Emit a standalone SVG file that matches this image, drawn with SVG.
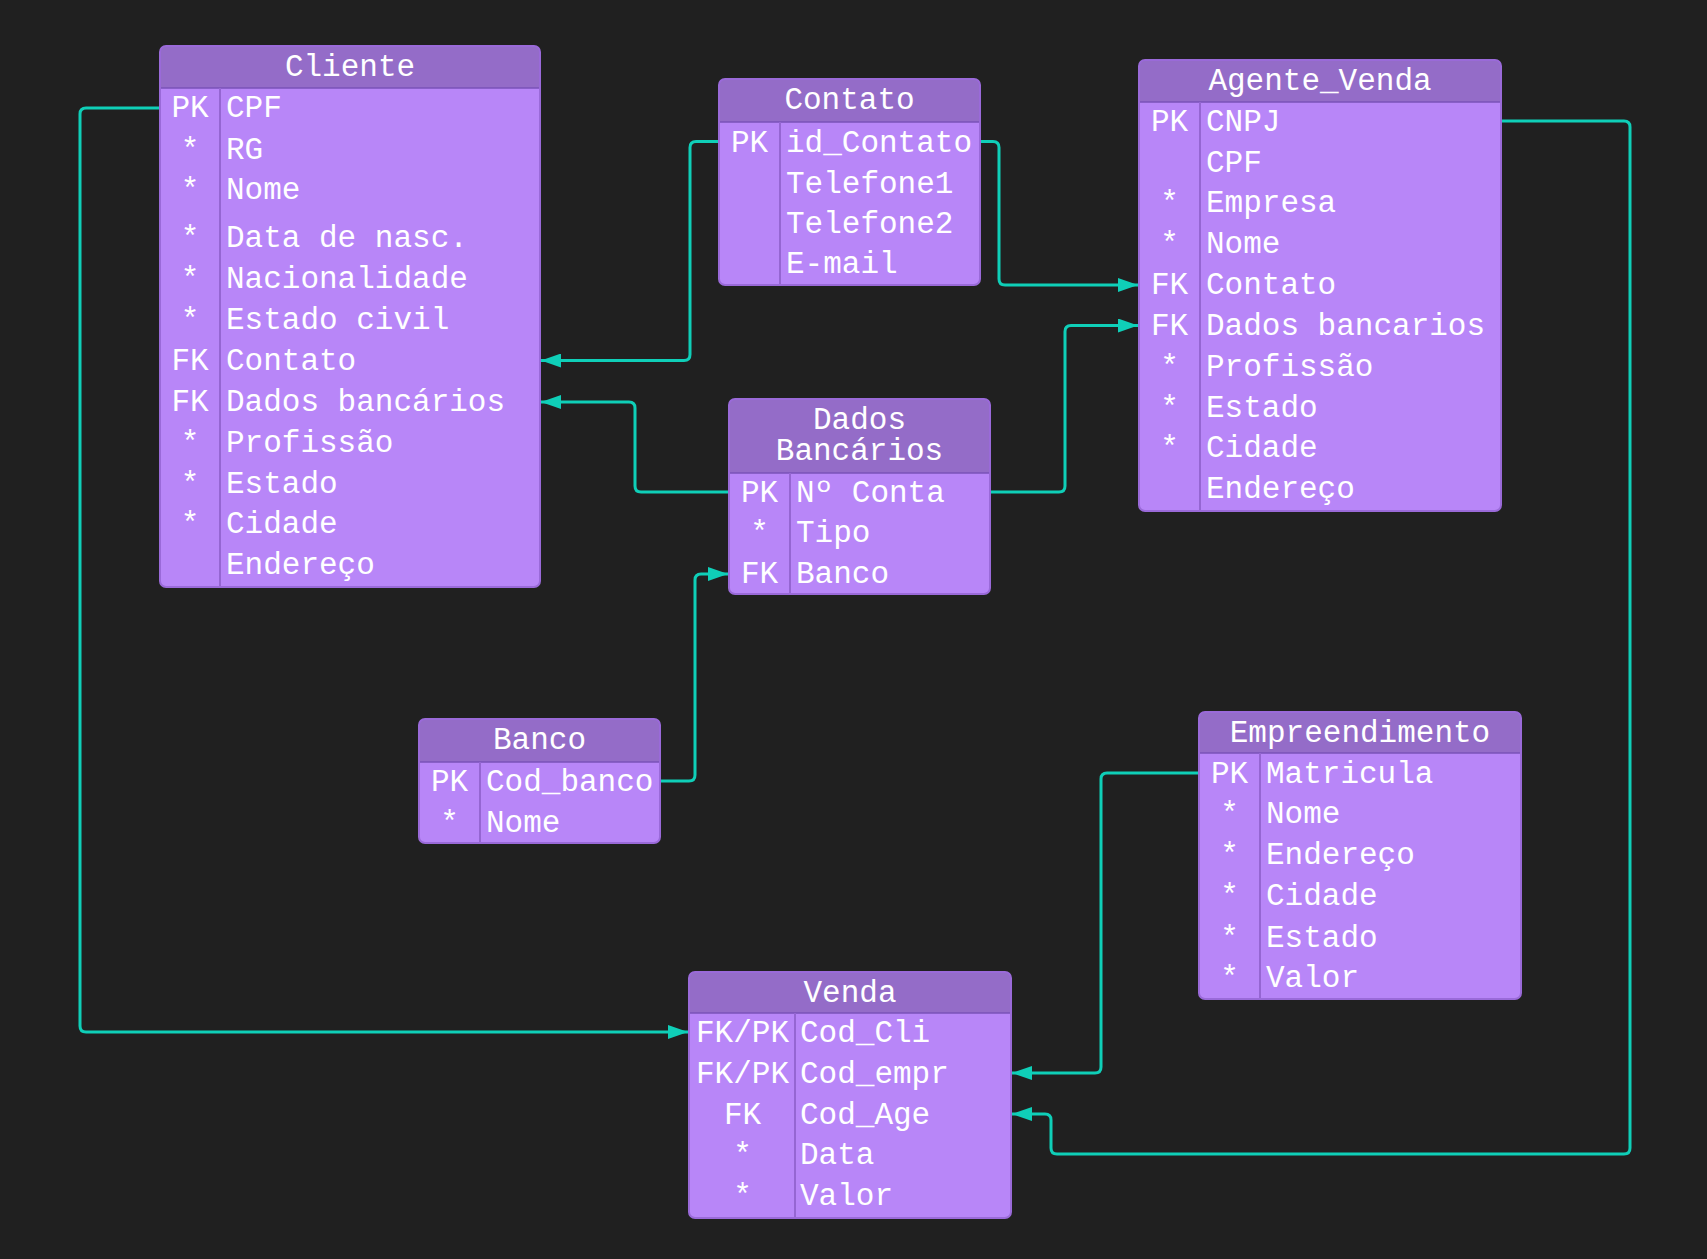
<svg xmlns="http://www.w3.org/2000/svg" width="1707" height="1259" viewBox="0 0 1707 1259">
<style>
.body{fill:#b886f8;}
.hdr{fill:#946cc8;}
.outline{fill:none;stroke:#9a6ad9;stroke-width:2;}
.div{stroke:#9566d2;stroke-width:2;}
.hsep{stroke:#7a52b8;stroke-width:1.5;}
text{font-family:"Liberation Mono","DejaVu Sans Mono",monospace;font-size:31px;fill:#ffffff;}
.c{text-anchor:middle;}
.conn path{fill:none;stroke:#0fcfb8;stroke-width:3;}
</style>
<defs>
<marker id="arr" markerUnits="userSpaceOnUse" markerWidth="21" markerHeight="14" refX="20" refY="7" orient="auto">
<path d="M0,0 L20,7 L0,14 z" fill="#0fcfb8"/>
</marker>
</defs>
<rect width="1707" height="1259" fill="#202020"/>

<g id="connectors" class="conn">
<path d="M159,108 H86 Q80,108 80,114 V1026 Q80,1032 86,1032 H688" marker-end="url(#arr)"/>
<path d="M719,141.5 H696 Q690,141.5 690,147.5 V354.5 Q690,360.5 684,360.5 H541" marker-end="url(#arr)"/>
<path d="M980,141.5 H993 Q999,141.5 999,147.5 V279 Q999,285 1005,285 H1138" marker-end="url(#arr)"/>
<path d="M729,492 H641 Q635,492 635,486 V408 Q635,402 629,402 H541" marker-end="url(#arr)"/>
<path d="M990,492 H1059 Q1065,492 1065,486 V331.5 Q1065,325.5 1071,325.5 H1138" marker-end="url(#arr)"/>
<path d="M660,781 H689 Q695,781 695,775 V580 Q695,574 701,574 H728" marker-end="url(#arr)"/>
<path d="M1199,773 H1107 Q1101,773 1101,779 V1067 Q1101,1073 1095,1073 H1012" marker-end="url(#arr)"/>
<path d="M1501,121 H1624 Q1630,121 1630,127 V1148 Q1630,1154 1624,1154 H1057 Q1051,1154 1051,1148 V1120 Q1051,1114 1045,1114 H1012" marker-end="url(#arr)"/>
</g>

<g id="cliente">
<rect class="body" x="160" y="46" width="380" height="541" rx="6"/>
<path class="hdr" d="M160,88 V52 Q160,46 166,46 H534 Q540,46 540,52 V88 Z"/>
<line class="hsep" x1="160" y1="88" x2="540" y2="88"/>
<line class="div" x1="220" y1="88" x2="220" y2="587"/>
<rect class="outline" x="160" y="46" width="380" height="541" rx="6"/>
<text class="c" x="350" y="76">Cliente</text>
<text class="c" x="190" y="117">PK</text><text x="226" y="117">CPF</text>
<text class="c" x="190" y="158.5">*</text><text x="226" y="158.5">RG</text>
<text class="c" x="190" y="199">*</text><text x="226" y="199">Nome</text>
<text class="c" x="190" y="247">*</text><text x="226" y="247">Data de nasc.</text>
<text class="c" x="190" y="288">*</text><text x="226" y="288">Nacionalidade</text>
<text class="c" x="190" y="328.5">*</text><text x="226" y="328.5">Estado civil</text>
<text class="c" x="190" y="370">FK</text><text x="226" y="370">Contato</text>
<text class="c" x="190" y="411">FK</text><text x="226" y="411">Dados bancários</text>
<text class="c" x="190" y="452">*</text><text x="226" y="452">Profissão</text>
<text class="c" x="190" y="493">*</text><text x="226" y="493">Estado</text>
<text class="c" x="190" y="533">*</text><text x="226" y="533">Cidade</text>
<text x="226" y="574">Endereço</text>
</g>

<g id="contato">
<rect class="body" x="719" y="79" width="261" height="206" rx="6"/>
<path class="hdr" d="M719,122 V85 Q719,79 725,79 H974 Q980,79 980,85 V122 Z"/>
<line class="hsep" x1="719" y1="122" x2="980" y2="122"/>
<line class="div" x1="780" y1="122" x2="780" y2="285"/>
<rect class="outline" x="719" y="79" width="261" height="206" rx="6"/>
<text class="c" x="849.5" y="109">Contato</text>
<text class="c" x="749.5" y="152">PK</text><text x="786" y="152">id_Contato</text>
<text x="786" y="193">Telefone1</text>
<text x="786" y="233">Telefone2</text>
<text x="786" y="273">E-mail</text>
</g>

<g id="dados_bancarios">
<rect class="body" x="729" y="399" width="261" height="195" rx="6"/>
<path class="hdr" d="M729,473 V405 Q729,399 735,399 H984 Q990,399 990,405 V473 Z"/>
<line class="hsep" x1="729" y1="473" x2="990" y2="473"/>
<line class="div" x1="790" y1="473" x2="790" y2="594"/>
<rect class="outline" x="729" y="399" width="261" height="195" rx="6"/>
<text class="c" x="859.5" y="429"><tspan x="859.5" y="429">Dados</tspan><tspan x="859.5" y="460">Bancários</tspan></text>
<text class="c" x="759.5" y="502">PK</text><text x="796" y="502">Nº Conta</text>
<text class="c" x="759.5" y="542">*</text><text x="796" y="542">Tipo</text>
<text class="c" x="759.5" y="583">FK</text><text x="796" y="583">Banco</text>
</g>

<g id="agente_venda">
<rect class="body" x="1139" y="60" width="362" height="451" rx="6"/>
<path class="hdr" d="M1139,102 V66 Q1139,60 1145,60 H1495 Q1501,60 1501,66 V102 Z"/>
<line class="hsep" x1="1139" y1="102" x2="1501" y2="102"/>
<line class="div" x1="1200" y1="102" x2="1200" y2="511"/>
<rect class="outline" x="1139" y="60" width="362" height="451" rx="6"/>
<text class="c" x="1320" y="90">Agente_Venda</text>
<text class="c" x="1169.5" y="131">PK</text><text x="1206" y="131">CNPJ</text>
<text x="1206" y="172">CPF</text>
<text class="c" x="1169.5" y="212">*</text><text x="1206" y="212">Empresa</text>
<text class="c" x="1169.5" y="253">*</text><text x="1206" y="253">Nome</text>
<text class="c" x="1169.5" y="294">FK</text><text x="1206" y="294">Contato</text>
<text class="c" x="1169.5" y="335">FK</text><text x="1206" y="335">Dados bancarios</text>
<text class="c" x="1169.5" y="376">*</text><text x="1206" y="376">Profissão</text>
<text class="c" x="1169.5" y="417">*</text><text x="1206" y="417">Estado</text>
<text class="c" x="1169.5" y="457">*</text><text x="1206" y="457">Cidade</text>
<text x="1206" y="498">Endereço</text>
</g>

<g id="banco">
<rect class="body" x="419" y="719" width="241" height="124" rx="6"/>
<path class="hdr" d="M419,762 V725 Q419,719 425,719 H654 Q660,719 660,725 V762 Z"/>
<line class="hsep" x1="419" y1="762" x2="660" y2="762"/>
<line class="div" x1="480" y1="762" x2="480" y2="843"/>
<rect class="outline" x="419" y="719" width="241" height="124" rx="6"/>
<text class="c" x="539.5" y="749">Banco</text>
<text class="c" x="449.5" y="791">PK</text><text x="486" y="791">Cod_banco</text>
<text class="c" x="449.5" y="832">*</text><text x="486" y="832">Nome</text>
</g>

<g id="empreendimento">
<rect class="body" x="1199" y="712" width="322" height="287" rx="6"/>
<path class="hdr" d="M1199,753 V718 Q1199,712 1205,712 H1515 Q1521,712 1521,718 V753 Z"/>
<line class="hsep" x1="1199" y1="753" x2="1521" y2="753"/>
<line class="div" x1="1260" y1="753" x2="1260" y2="999"/>
<rect class="outline" x="1199" y="712" width="322" height="287" rx="6"/>
<text class="c" x="1360" y="742">Empreendimento</text>
<text class="c" x="1229.5" y="783">PK</text><text x="1266" y="783">Matricula</text>
<text class="c" x="1229.5" y="823">*</text><text x="1266" y="823">Nome</text>
<text class="c" x="1229.5" y="864">*</text><text x="1266" y="864">Endereço</text>
<text class="c" x="1229.5" y="905">*</text><text x="1266" y="905">Cidade</text>
<text class="c" x="1229.5" y="947">*</text><text x="1266" y="947">Estado</text>
<text class="c" x="1229.5" y="987">*</text><text x="1266" y="987">Valor</text>
</g>

<g id="venda">
<rect class="body" x="689" y="972" width="322" height="246" rx="6"/>
<path class="hdr" d="M689,1013 V978 Q689,972 695,972 H1005 Q1011,972 1011,978 V1013 Z"/>
<line class="hsep" x1="689" y1="1013" x2="1011" y2="1013"/>
<line class="div" x1="795" y1="1013" x2="795" y2="1218"/>
<rect class="outline" x="689" y="972" width="322" height="246" rx="6"/>
<text class="c" x="850" y="1002">Venda</text>
<text class="c" x="742.5" y="1042">FK/PK</text><text x="800" y="1042">Cod_Cli</text>
<text class="c" x="742.5" y="1083">FK/PK</text><text x="800" y="1083">Cod_empr</text>
<text class="c" x="742.5" y="1124">FK</text><text x="800" y="1124">Cod_Age</text>
<text class="c" x="742.5" y="1164">*</text><text x="800" y="1164">Data</text>
<text class="c" x="742.5" y="1205">*</text><text x="800" y="1205">Valor</text>
</g>
</svg>
